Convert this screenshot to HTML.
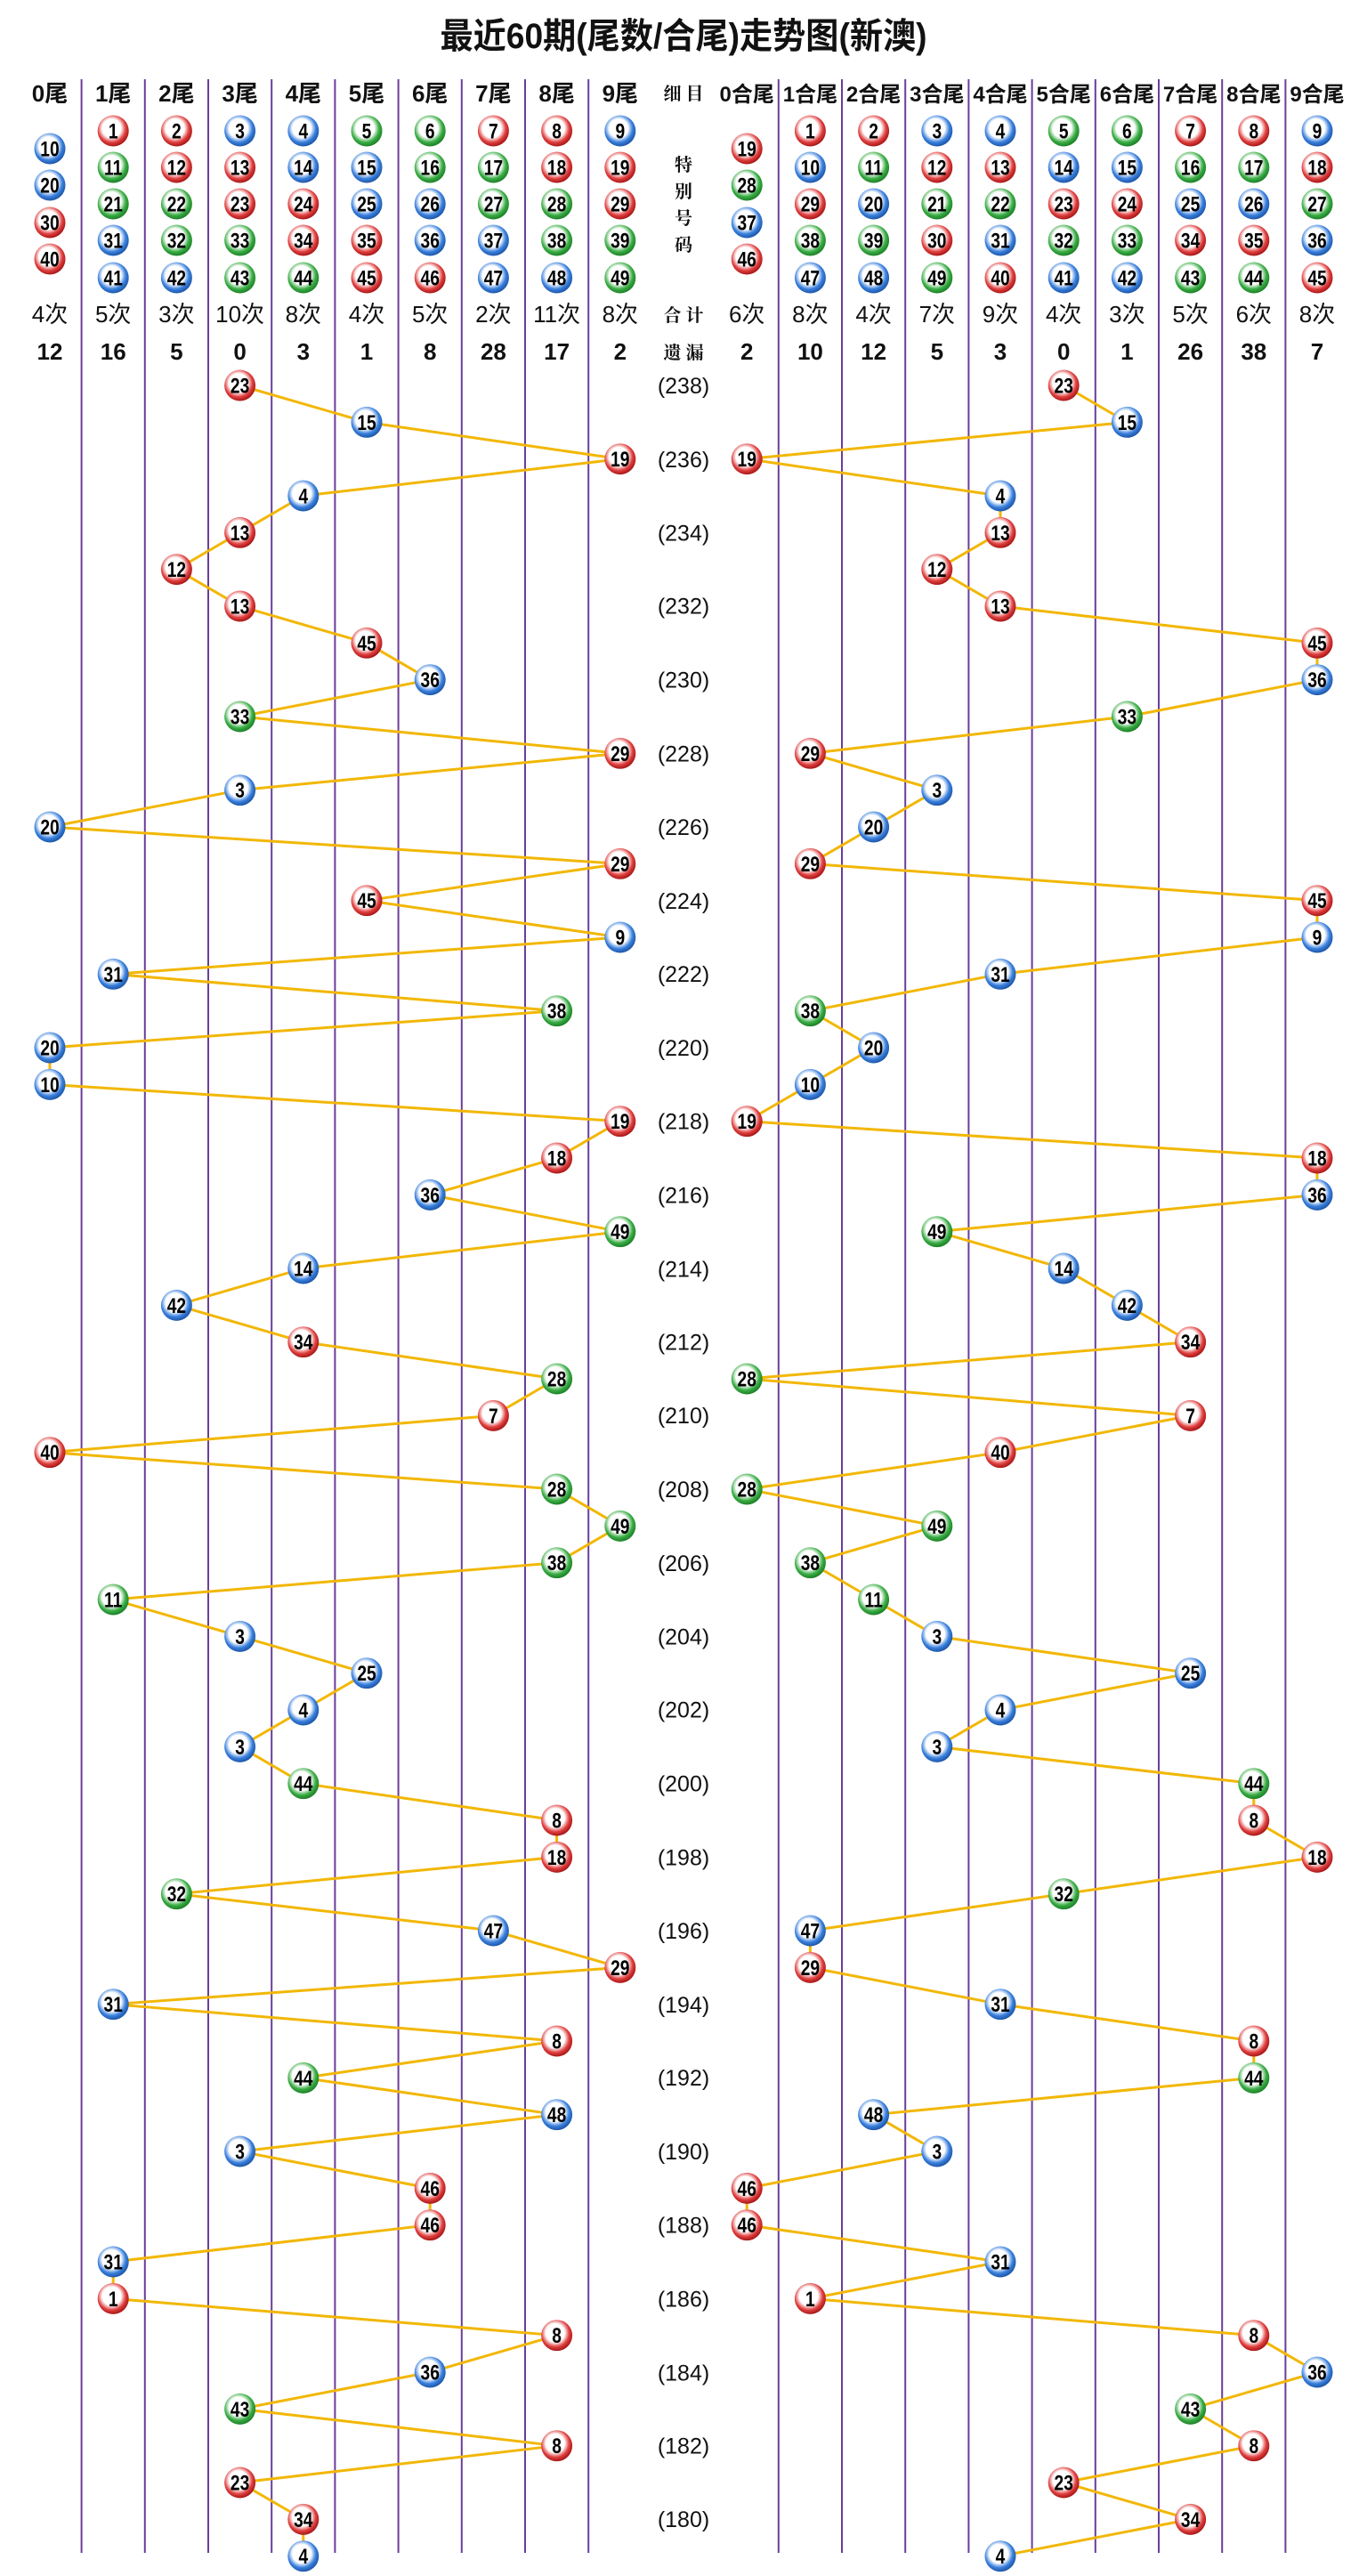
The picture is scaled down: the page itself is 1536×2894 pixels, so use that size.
<!DOCTYPE html>
<html><head><meta charset="utf-8"><style>
html,body{margin:0;padding:0;background:#fff;}
svg{display:block;}
.h{font:bold 26px "Liberation Sans Narrow","Liberation Sans","Noto Sans CJK SC",sans-serif;text-anchor:middle;fill:#111;}
.hs{font:bold 24px "Liberation Sans Narrow","Liberation Sans","Noto Sans CJK SC",sans-serif;text-anchor:middle;fill:#111;}
.k{font:bold 20px "Liberation Serif","Noto Serif CJK SC",serif;text-anchor:middle;fill:#111;}
.p{font:25px "Liberation Sans Narrow","Liberation Sans",sans-serif;text-anchor:middle;fill:#111;}
.b text{font:bold 24px "Liberation Sans Narrow","Liberation Sans",sans-serif;text-anchor:middle;fill:#000;transform-box:fill-box;transform-origin:center;transform:translateY(1.5px) scaleX(0.8);}
</style></head><body>
<svg width="1536" height="2894" viewBox="0 0 1536 2894" xmlns="http://www.w3.org/2000/svg">
<defs>
<radialGradient id="gr" cx=".45" cy=".42" r=".6"><stop offset="0" stop-color="#fff"/><stop offset=".5" stop-color="#fff"/><stop offset=".75" stop-color="#e04040"/><stop offset="1" stop-color="#a01010"/></radialGradient>
<radialGradient id="gb" cx=".45" cy=".42" r=".6"><stop offset="0" stop-color="#fff"/><stop offset=".5" stop-color="#fff"/><stop offset=".75" stop-color="#3a80dd"/><stop offset="1" stop-color="#1850a0"/></radialGradient>
<radialGradient id="gg" cx=".45" cy=".42" r=".6"><stop offset="0" stop-color="#fff"/><stop offset=".5" stop-color="#fff"/><stop offset=".75" stop-color="#3aad45"/><stop offset="1" stop-color="#187a22"/></radialGradient>
<circle id="R" r="17.5" fill="url(#gr)"/>
<circle id="B" r="17.5" fill="url(#gb)"/>
<circle id="G" r="17.5" fill="url(#gg)"/>
</defs>
<text x="768" y="54" textLength="547" lengthAdjust="spacingAndGlyphs" style="font:bold 40px 'Liberation Sans Narrow','Liberation Sans','Noto Sans CJK SC',sans-serif;text-anchor:middle;fill:#111">最近60期(尾数/合尾)走势图(新澳)</text>
<g stroke="#6a3d9a" stroke-width="2">
<line x1="91.6" y1="89" x2="91.6" y2="2868"/><line x1="162.8" y1="89" x2="162.8" y2="2868"/><line x1="234" y1="89" x2="234" y2="2868"/><line x1="305.2" y1="89" x2="305.2" y2="2868"/><line x1="376.4" y1="89" x2="376.4" y2="2868"/><line x1="447.6" y1="89" x2="447.6" y2="2868"/><line x1="518.8" y1="89" x2="518.8" y2="2868"/><line x1="590" y1="89" x2="590" y2="2868"/><line x1="661.2" y1="89" x2="661.2" y2="2868"/>
<line x1="874.8" y1="89" x2="874.8" y2="2868"/><line x1="946" y1="89" x2="946" y2="2868"/><line x1="1017.2" y1="89" x2="1017.2" y2="2868"/><line x1="1088.4" y1="89" x2="1088.4" y2="2868"/><line x1="1159.6" y1="89" x2="1159.6" y2="2868"/><line x1="1230.8" y1="89" x2="1230.8" y2="2868"/><line x1="1302" y1="89" x2="1302" y2="2868"/><line x1="1373.2" y1="89" x2="1373.2" y2="2868"/><line x1="1444.4" y1="89" x2="1444.4" y2="2868"/>
</g>
<g class="h">
<text x="56" y="114">0尾</text><text x="127.2" y="114">1尾</text><text x="198.4" y="114">2尾</text><text x="269.6" y="114">3尾</text><text x="340.8" y="114">4尾</text><text x="412" y="114">5尾</text><text x="483.2" y="114">6尾</text><text x="554.4" y="114">7尾</text><text x="625.6" y="114">8尾</text><text x="696.8" y="114">9尾</text>
</g>
<g class="hs">
<text x="839.2" y="114">0合尾</text><text x="910.4" y="114">1合尾</text><text x="981.6" y="114">2合尾</text><text x="1052.8" y="114">3合尾</text><text x="1124" y="114">4合尾</text><text x="1195.2" y="114">5合尾</text><text x="1266.4" y="114">6合尾</text><text x="1337.6" y="114">7合尾</text><text x="1408.8" y="114">8合尾</text><text x="1480" y="114">9合尾</text>
</g>
<g class="k">
<text x="768" y="112">细 目</text><text x="768" y="192">特</text><text x="768" y="222">别</text><text x="768" y="252">号</text><text x="768" y="282">码</text><text x="768" y="361">合 计</text><text x="768" y="403">遗 漏</text>
</g>
<g class="h" style="font-weight:normal">
<text x="56" y="362">4次</text><text x="127.2" y="362">5次</text><text x="198.4" y="362">3次</text><text x="269.6" y="362">10次</text><text x="340.8" y="362">8次</text><text x="412" y="362">4次</text><text x="483.2" y="362">5次</text><text x="554.4" y="362">2次</text><text x="625.6" y="362">11次</text><text x="696.8" y="362">8次</text>
<text x="839.2" y="362">6次</text><text x="910.4" y="362">8次</text><text x="981.6" y="362">4次</text><text x="1052.8" y="362">7次</text><text x="1124" y="362">9次</text><text x="1195.2" y="362">4次</text><text x="1266.4" y="362">3次</text><text x="1337.6" y="362">5次</text><text x="1408.8" y="362">6次</text><text x="1480" y="362">8次</text>
</g>
<g class="h">
<text x="56" y="404">12</text><text x="127.2" y="404">16</text><text x="198.4" y="404">5</text><text x="269.6" y="404">0</text><text x="340.8" y="404">3</text><text x="412" y="404">1</text><text x="483.2" y="404">8</text><text x="554.4" y="404">28</text><text x="625.6" y="404">17</text><text x="696.8" y="404">2</text>
<text x="839.2" y="404">2</text><text x="910.4" y="404">10</text><text x="981.6" y="404">12</text><text x="1052.8" y="404">5</text><text x="1124" y="404">3</text><text x="1195.2" y="404">0</text><text x="1266.4" y="404">1</text><text x="1337.6" y="404">26</text><text x="1408.8" y="404">38</text><text x="1480" y="404">7</text>
</g>
<g class="b">
<use href="#B" x="56" y="167"/><text x="56" y="174">10</text>
<use href="#B" x="56" y="208"/><text x="56" y="215">20</text>
<use href="#R" x="56" y="250"/><text x="56" y="257">30</text>
<use href="#R" x="56" y="291"/><text x="56" y="298">40</text>

<use href="#R" x="127.2" y="147"/><text x="127.2" y="154">1</text>
<use href="#G" x="127.2" y="188"/><text x="127.2" y="195">11</text>
<use href="#G" x="127.2" y="229"/><text x="127.2" y="236">21</text>
<use href="#B" x="127.2" y="270"/><text x="127.2" y="277">31</text>
<use href="#B" x="127.2" y="312"/><text x="127.2" y="319">41</text>

<use href="#R" x="198.4" y="147"/><text x="198.4" y="154">2</text>
<use href="#R" x="198.4" y="188"/><text x="198.4" y="195">12</text>
<use href="#G" x="198.4" y="229"/><text x="198.4" y="236">22</text>
<use href="#G" x="198.4" y="270"/><text x="198.4" y="277">32</text>
<use href="#B" x="198.4" y="312"/><text x="198.4" y="319">42</text>

<use href="#B" x="269.6" y="147"/><text x="269.6" y="154">3</text>
<use href="#R" x="269.6" y="188"/><text x="269.6" y="195">13</text>
<use href="#R" x="269.6" y="229"/><text x="269.6" y="236">23</text>
<use href="#G" x="269.6" y="270"/><text x="269.6" y="277">33</text>
<use href="#G" x="269.6" y="312"/><text x="269.6" y="319">43</text>

<use href="#B" x="340.8" y="147"/><text x="340.8" y="154">4</text>
<use href="#B" x="340.8" y="188"/><text x="340.8" y="195">14</text>
<use href="#R" x="340.8" y="229"/><text x="340.8" y="236">24</text>
<use href="#R" x="340.8" y="270"/><text x="340.8" y="277">34</text>
<use href="#G" x="340.8" y="312"/><text x="340.8" y="319">44</text>

<use href="#G" x="412" y="147"/><text x="412" y="154">5</text>
<use href="#B" x="412" y="188"/><text x="412" y="195">15</text>
<use href="#B" x="412" y="229"/><text x="412" y="236">25</text>
<use href="#R" x="412" y="270"/><text x="412" y="277">35</text>
<use href="#R" x="412" y="312"/><text x="412" y="319">45</text>

<use href="#G" x="483.2" y="147"/><text x="483.2" y="154">6</text>
<use href="#G" x="483.2" y="188"/><text x="483.2" y="195">16</text>
<use href="#B" x="483.2" y="229"/><text x="483.2" y="236">26</text>
<use href="#B" x="483.2" y="270"/><text x="483.2" y="277">36</text>
<use href="#R" x="483.2" y="312"/><text x="483.2" y="319">46</text>

<use href="#R" x="554.4" y="147"/><text x="554.4" y="154">7</text>
<use href="#G" x="554.4" y="188"/><text x="554.4" y="195">17</text>
<use href="#G" x="554.4" y="229"/><text x="554.4" y="236">27</text>
<use href="#B" x="554.4" y="270"/><text x="554.4" y="277">37</text>
<use href="#B" x="554.4" y="312"/><text x="554.4" y="319">47</text>

<use href="#R" x="625.6" y="147"/><text x="625.6" y="154">8</text>
<use href="#R" x="625.6" y="188"/><text x="625.6" y="195">18</text>
<use href="#G" x="625.6" y="229"/><text x="625.6" y="236">28</text>
<use href="#G" x="625.6" y="270"/><text x="625.6" y="277">38</text>
<use href="#B" x="625.6" y="312"/><text x="625.6" y="319">48</text>

<use href="#B" x="696.8" y="147"/><text x="696.8" y="154">9</text>
<use href="#R" x="696.8" y="188"/><text x="696.8" y="195">19</text>
<use href="#R" x="696.8" y="229"/><text x="696.8" y="236">29</text>
<use href="#G" x="696.8" y="270"/><text x="696.8" y="277">39</text>
<use href="#G" x="696.8" y="312"/><text x="696.8" y="319">49</text>

<use href="#R" x="839.2" y="167"/><text x="839.2" y="174">19</text>
<use href="#G" x="839.2" y="208"/><text x="839.2" y="215">28</text>
<use href="#B" x="839.2" y="250"/><text x="839.2" y="257">37</text>
<use href="#R" x="839.2" y="291"/><text x="839.2" y="298">46</text>

<use href="#R" x="910.4" y="147"/><text x="910.4" y="154">1</text>
<use href="#B" x="910.4" y="188"/><text x="910.4" y="195">10</text>
<use href="#R" x="910.4" y="229"/><text x="910.4" y="236">29</text>
<use href="#G" x="910.4" y="270"/><text x="910.4" y="277">38</text>
<use href="#B" x="910.4" y="312"/><text x="910.4" y="319">47</text>

<use href="#R" x="981.6" y="147"/><text x="981.6" y="154">2</text>
<use href="#G" x="981.6" y="188"/><text x="981.6" y="195">11</text>
<use href="#B" x="981.6" y="229"/><text x="981.6" y="236">20</text>
<use href="#G" x="981.6" y="270"/><text x="981.6" y="277">39</text>
<use href="#B" x="981.6" y="312"/><text x="981.6" y="319">48</text>

<use href="#B" x="1052.8" y="147"/><text x="1052.8" y="154">3</text>
<use href="#R" x="1052.8" y="188"/><text x="1052.8" y="195">12</text>
<use href="#G" x="1052.8" y="229"/><text x="1052.8" y="236">21</text>
<use href="#R" x="1052.8" y="270"/><text x="1052.8" y="277">30</text>
<use href="#G" x="1052.8" y="312"/><text x="1052.8" y="319">49</text>

<use href="#B" x="1124" y="147"/><text x="1124" y="154">4</text>
<use href="#R" x="1124" y="188"/><text x="1124" y="195">13</text>
<use href="#G" x="1124" y="229"/><text x="1124" y="236">22</text>
<use href="#B" x="1124" y="270"/><text x="1124" y="277">31</text>
<use href="#R" x="1124" y="312"/><text x="1124" y="319">40</text>

<use href="#G" x="1195.2" y="147"/><text x="1195.2" y="154">5</text>
<use href="#B" x="1195.2" y="188"/><text x="1195.2" y="195">14</text>
<use href="#R" x="1195.2" y="229"/><text x="1195.2" y="236">23</text>
<use href="#G" x="1195.2" y="270"/><text x="1195.2" y="277">32</text>
<use href="#B" x="1195.2" y="312"/><text x="1195.2" y="319">41</text>

<use href="#G" x="1266.4" y="147"/><text x="1266.4" y="154">6</text>
<use href="#B" x="1266.4" y="188"/><text x="1266.4" y="195">15</text>
<use href="#R" x="1266.4" y="229"/><text x="1266.4" y="236">24</text>
<use href="#G" x="1266.4" y="270"/><text x="1266.4" y="277">33</text>
<use href="#B" x="1266.4" y="312"/><text x="1266.4" y="319">42</text>

<use href="#R" x="1337.6" y="147"/><text x="1337.6" y="154">7</text>
<use href="#G" x="1337.6" y="188"/><text x="1337.6" y="195">16</text>
<use href="#B" x="1337.6" y="229"/><text x="1337.6" y="236">25</text>
<use href="#R" x="1337.6" y="270"/><text x="1337.6" y="277">34</text>
<use href="#G" x="1337.6" y="312"/><text x="1337.6" y="319">43</text>

<use href="#R" x="1408.8" y="147"/><text x="1408.8" y="154">8</text>
<use href="#G" x="1408.8" y="188"/><text x="1408.8" y="195">17</text>
<use href="#B" x="1408.8" y="229"/><text x="1408.8" y="236">26</text>
<use href="#R" x="1408.8" y="270"/><text x="1408.8" y="277">35</text>
<use href="#G" x="1408.8" y="312"/><text x="1408.8" y="319">44</text>

<use href="#B" x="1480" y="147"/><text x="1480" y="154">9</text>
<use href="#R" x="1480" y="188"/><text x="1480" y="195">18</text>
<use href="#G" x="1480" y="229"/><text x="1480" y="236">27</text>
<use href="#B" x="1480" y="270"/><text x="1480" y="277">36</text>
<use href="#R" x="1480" y="312"/><text x="1480" y="319">45</text>
</g>
<g transform="translate(0,433) scale(1,0.9984) translate(0,-433)">
<g class="p">
<text x="768" y="442">(238)</text><text x="768" y="525">(236)</text><text x="768" y="608">(234)</text><text x="768" y="690">(232)</text><text x="768" y="773">(230)</text><text x="768" y="856">(228)</text><text x="768" y="939">(226)</text><text x="768" y="1022">(224)</text><text x="768" y="1104">(222)</text><text x="768" y="1187">(220)</text><text x="768" y="1270">(218)</text><text x="768" y="1353">(216)</text><text x="768" y="1436">(214)</text><text x="768" y="1518">(212)</text><text x="768" y="1601">(210)</text><text x="768" y="1684">(208)</text><text x="768" y="1767">(206)</text><text x="768" y="1850">(204)</text><text x="768" y="1932">(202)</text><text x="768" y="2015">(200)</text><text x="768" y="2098">(198)</text><text x="768" y="2181">(196)</text><text x="768" y="2264">(194)</text><text x="768" y="2346">(192)</text><text x="768" y="2429">(190)</text><text x="768" y="2512">(188)</text><text x="768" y="2595">(186)</text><text x="768" y="2678">(184)</text><text x="768" y="2760">(182)</text><text x="768" y="2843">(180)</text>
</g>
<g fill="none" stroke="#f2b705" stroke-width="3" stroke-linejoin="round">
<polyline points="269.6,433 412,474.4 696.8,515.8 340.8,557.2 269.6,598.6 198.4,640 269.6,681.4 412,722.8 483.2,764.2 269.6,805.6 696.8,847 269.6,888.4 56,929.8 696.8,971.2 412,1012.6 696.8,1054 127.2,1095.4 625.6,1136.8 56,1178.2 56,1219.6 696.8,1261 625.6,1302.4 483.2,1343.8 696.8,1385.2 340.8,1426.6 198.4,1468 340.8,1509.4 625.6,1550.8 554.4,1592.2 56,1633.6 625.6,1675 696.8,1716.4 625.6,1757.8 127.2,1799.2 269.6,1840.6 412,1882 340.8,1923.4 269.6,1964.8 340.8,2006.2 625.6,2047.6 625.6,2089 198.4,2130.4 554.4,2171.8 696.8,2213.2 127.2,2254.6 625.6,2296 340.8,2337.4 625.6,2378.8 269.6,2420.2 483.2,2461.6 483.2,2503 127.2,2544.4 127.2,2585.8 625.6,2627.2 483.2,2668.6 269.6,2710 625.6,2751.4 269.6,2792.8 340.8,2834.2 340.8,2875.6"/>
<polyline points="1195.2,433 1266.4,474.4 839.2,515.8 1124,557.2 1124,598.6 1052.8,640 1124,681.4 1480,722.8 1480,764.2 1266.4,805.6 910.4,847 1052.8,888.4 981.6,929.8 910.4,971.2 1480,1012.6 1480,1054 1124,1095.4 910.4,1136.8 981.6,1178.2 910.4,1219.6 839.2,1261 1480,1302.4 1480,1343.8 1052.8,1385.2 1195.2,1426.6 1266.4,1468 1337.6,1509.4 839.2,1550.8 1337.6,1592.2 1124,1633.6 839.2,1675 1052.8,1716.4 910.4,1757.8 981.6,1799.2 1052.8,1840.6 1337.6,1882 1124,1923.4 1052.8,1964.8 1408.8,2006.2 1408.8,2047.6 1480,2089 1195.2,2130.4 910.4,2171.8 910.4,2213.2 1124,2254.6 1408.8,2296 1408.8,2337.4 981.6,2378.8 1052.8,2420.2 839.2,2461.6 839.2,2503 1124,2544.4 910.4,2585.8 1408.8,2627.2 1480,2668.6 1337.6,2710 1408.8,2751.4 1195.2,2792.8 1337.6,2834.2 1124,2875.6"/>
</g>
<g class="b">
<use href="#R" x="269.6" y="433"/><text x="269.6" y="440">23</text><use href="#R" x="1195.2" y="433"/><text x="1195.2" y="440">23</text>
<use href="#B" x="412" y="474.4"/><text x="412" y="481.4">15</text><use href="#B" x="1266.4" y="474.4"/><text x="1266.4" y="481.4">15</text>
<use href="#R" x="696.8" y="515.8"/><text x="696.8" y="522.8">19</text><use href="#R" x="839.2" y="515.8"/><text x="839.2" y="522.8">19</text>
<use href="#B" x="340.8" y="557.2"/><text x="340.8" y="564.2">4</text><use href="#B" x="1124" y="557.2"/><text x="1124" y="564.2">4</text>
<use href="#R" x="269.6" y="598.6"/><text x="269.6" y="605.6">13</text><use href="#R" x="1124" y="598.6"/><text x="1124" y="605.6">13</text>
<use href="#R" x="198.4" y="640"/><text x="198.4" y="647">12</text><use href="#R" x="1052.8" y="640"/><text x="1052.8" y="647">12</text>
<use href="#R" x="269.6" y="681.4"/><text x="269.6" y="688.4">13</text><use href="#R" x="1124" y="681.4"/><text x="1124" y="688.4">13</text>
<use href="#R" x="412" y="722.8"/><text x="412" y="729.8">45</text><use href="#R" x="1480" y="722.8"/><text x="1480" y="729.8">45</text>
<use href="#B" x="483.2" y="764.2"/><text x="483.2" y="771.2">36</text><use href="#B" x="1480" y="764.2"/><text x="1480" y="771.2">36</text>
<use href="#G" x="269.6" y="805.6"/><text x="269.6" y="812.6">33</text><use href="#G" x="1266.4" y="805.6"/><text x="1266.4" y="812.6">33</text>
<use href="#R" x="696.8" y="847"/><text x="696.8" y="854">29</text><use href="#R" x="910.4" y="847"/><text x="910.4" y="854">29</text>
<use href="#B" x="269.6" y="888.4"/><text x="269.6" y="895.4">3</text><use href="#B" x="1052.8" y="888.4"/><text x="1052.8" y="895.4">3</text>
<use href="#B" x="56" y="929.8"/><text x="56" y="936.8">20</text><use href="#B" x="981.6" y="929.8"/><text x="981.6" y="936.8">20</text>
<use href="#R" x="696.8" y="971.2"/><text x="696.8" y="978.2">29</text><use href="#R" x="910.4" y="971.2"/><text x="910.4" y="978.2">29</text>
<use href="#R" x="412" y="1012.6"/><text x="412" y="1019.6">45</text><use href="#R" x="1480" y="1012.6"/><text x="1480" y="1019.6">45</text>
<use href="#B" x="696.8" y="1054"/><text x="696.8" y="1061">9</text><use href="#B" x="1480" y="1054"/><text x="1480" y="1061">9</text>
<use href="#B" x="127.2" y="1095.4"/><text x="127.2" y="1102.4">31</text><use href="#B" x="1124" y="1095.4"/><text x="1124" y="1102.4">31</text>
<use href="#G" x="625.6" y="1136.8"/><text x="625.6" y="1143.8">38</text><use href="#G" x="910.4" y="1136.8"/><text x="910.4" y="1143.8">38</text>
<use href="#B" x="56" y="1178.2"/><text x="56" y="1185.2">20</text><use href="#B" x="981.6" y="1178.2"/><text x="981.6" y="1185.2">20</text>
<use href="#B" x="56" y="1219.6"/><text x="56" y="1226.6">10</text><use href="#B" x="910.4" y="1219.6"/><text x="910.4" y="1226.6">10</text>
<use href="#R" x="696.8" y="1261"/><text x="696.8" y="1268">19</text><use href="#R" x="839.2" y="1261"/><text x="839.2" y="1268">19</text>
<use href="#R" x="625.6" y="1302.4"/><text x="625.6" y="1309.4">18</text><use href="#R" x="1480" y="1302.4"/><text x="1480" y="1309.4">18</text>
<use href="#B" x="483.2" y="1343.8"/><text x="483.2" y="1350.8">36</text><use href="#B" x="1480" y="1343.8"/><text x="1480" y="1350.8">36</text>
<use href="#G" x="696.8" y="1385.2"/><text x="696.8" y="1392.2">49</text><use href="#G" x="1052.8" y="1385.2"/><text x="1052.8" y="1392.2">49</text>
<use href="#B" x="340.8" y="1426.6"/><text x="340.8" y="1433.6">14</text><use href="#B" x="1195.2" y="1426.6"/><text x="1195.2" y="1433.6">14</text>
<use href="#B" x="198.4" y="1468"/><text x="198.4" y="1475">42</text><use href="#B" x="1266.4" y="1468"/><text x="1266.4" y="1475">42</text>
<use href="#R" x="340.8" y="1509.4"/><text x="340.8" y="1516.4">34</text><use href="#R" x="1337.6" y="1509.4"/><text x="1337.6" y="1516.4">34</text>
<use href="#G" x="625.6" y="1550.8"/><text x="625.6" y="1557.8">28</text><use href="#G" x="839.2" y="1550.8"/><text x="839.2" y="1557.8">28</text>
<use href="#R" x="554.4" y="1592.2"/><text x="554.4" y="1599.2">7</text><use href="#R" x="1337.6" y="1592.2"/><text x="1337.6" y="1599.2">7</text>
<use href="#R" x="56" y="1633.6"/><text x="56" y="1640.6">40</text><use href="#R" x="1124" y="1633.6"/><text x="1124" y="1640.6">40</text>
<use href="#G" x="625.6" y="1675"/><text x="625.6" y="1682">28</text><use href="#G" x="839.2" y="1675"/><text x="839.2" y="1682">28</text>
<use href="#G" x="696.8" y="1716.4"/><text x="696.8" y="1723.4">49</text><use href="#G" x="1052.8" y="1716.4"/><text x="1052.8" y="1723.4">49</text>
<use href="#G" x="625.6" y="1757.8"/><text x="625.6" y="1764.8">38</text><use href="#G" x="910.4" y="1757.8"/><text x="910.4" y="1764.8">38</text>
<use href="#G" x="127.2" y="1799.2"/><text x="127.2" y="1806.2">11</text><use href="#G" x="981.6" y="1799.2"/><text x="981.6" y="1806.2">11</text>
<use href="#B" x="269.6" y="1840.6"/><text x="269.6" y="1847.6">3</text><use href="#B" x="1052.8" y="1840.6"/><text x="1052.8" y="1847.6">3</text>
<use href="#B" x="412" y="1882"/><text x="412" y="1889">25</text><use href="#B" x="1337.6" y="1882"/><text x="1337.6" y="1889">25</text>
<use href="#B" x="340.8" y="1923.4"/><text x="340.8" y="1930.4">4</text><use href="#B" x="1124" y="1923.4"/><text x="1124" y="1930.4">4</text>
<use href="#B" x="269.6" y="1964.8"/><text x="269.6" y="1971.8">3</text><use href="#B" x="1052.8" y="1964.8"/><text x="1052.8" y="1971.8">3</text>
<use href="#G" x="340.8" y="2006.2"/><text x="340.8" y="2013.2">44</text><use href="#G" x="1408.8" y="2006.2"/><text x="1408.8" y="2013.2">44</text>
<use href="#R" x="625.6" y="2047.6"/><text x="625.6" y="2054.6">8</text><use href="#R" x="1408.8" y="2047.6"/><text x="1408.8" y="2054.6">8</text>
<use href="#R" x="625.6" y="2089"/><text x="625.6" y="2096">18</text><use href="#R" x="1480" y="2089"/><text x="1480" y="2096">18</text>
<use href="#G" x="198.4" y="2130.4"/><text x="198.4" y="2137.4">32</text><use href="#G" x="1195.2" y="2130.4"/><text x="1195.2" y="2137.4">32</text>
<use href="#B" x="554.4" y="2171.8"/><text x="554.4" y="2178.8">47</text><use href="#B" x="910.4" y="2171.8"/><text x="910.4" y="2178.8">47</text>
<use href="#R" x="696.8" y="2213.2"/><text x="696.8" y="2220.2">29</text><use href="#R" x="910.4" y="2213.2"/><text x="910.4" y="2220.2">29</text>
<use href="#B" x="127.2" y="2254.6"/><text x="127.2" y="2261.6">31</text><use href="#B" x="1124" y="2254.6"/><text x="1124" y="2261.6">31</text>
<use href="#R" x="625.6" y="2296"/><text x="625.6" y="2303">8</text><use href="#R" x="1408.8" y="2296"/><text x="1408.8" y="2303">8</text>
<use href="#G" x="340.8" y="2337.4"/><text x="340.8" y="2344.4">44</text><use href="#G" x="1408.8" y="2337.4"/><text x="1408.8" y="2344.4">44</text>
<use href="#B" x="625.6" y="2378.8"/><text x="625.6" y="2385.8">48</text><use href="#B" x="981.6" y="2378.8"/><text x="981.6" y="2385.8">48</text>
<use href="#B" x="269.6" y="2420.2"/><text x="269.6" y="2427.2">3</text><use href="#B" x="1052.8" y="2420.2"/><text x="1052.8" y="2427.2">3</text>
<use href="#R" x="483.2" y="2461.6"/><text x="483.2" y="2468.6">46</text><use href="#R" x="839.2" y="2461.6"/><text x="839.2" y="2468.6">46</text>
<use href="#R" x="483.2" y="2503"/><text x="483.2" y="2510">46</text><use href="#R" x="839.2" y="2503"/><text x="839.2" y="2510">46</text>
<use href="#B" x="127.2" y="2544.4"/><text x="127.2" y="2551.4">31</text><use href="#B" x="1124" y="2544.4"/><text x="1124" y="2551.4">31</text>
<use href="#R" x="127.2" y="2585.8"/><text x="127.2" y="2592.8">1</text><use href="#R" x="910.4" y="2585.8"/><text x="910.4" y="2592.8">1</text>
<use href="#R" x="625.6" y="2627.2"/><text x="625.6" y="2634.2">8</text><use href="#R" x="1408.8" y="2627.2"/><text x="1408.8" y="2634.2">8</text>
<use href="#B" x="483.2" y="2668.6"/><text x="483.2" y="2675.6">36</text><use href="#B" x="1480" y="2668.6"/><text x="1480" y="2675.6">36</text>
<use href="#G" x="269.6" y="2710"/><text x="269.6" y="2717">43</text><use href="#G" x="1337.6" y="2710"/><text x="1337.6" y="2717">43</text>
<use href="#R" x="625.6" y="2751.4"/><text x="625.6" y="2758.4">8</text><use href="#R" x="1408.8" y="2751.4"/><text x="1408.8" y="2758.4">8</text>
<use href="#R" x="269.6" y="2792.8"/><text x="269.6" y="2799.8">23</text><use href="#R" x="1195.2" y="2792.8"/><text x="1195.2" y="2799.8">23</text>
<use href="#R" x="340.8" y="2834.2"/><text x="340.8" y="2841.2">34</text><use href="#R" x="1337.6" y="2834.2"/><text x="1337.6" y="2841.2">34</text>
<use href="#B" x="340.8" y="2875.6"/><text x="340.8" y="2882.6">4</text><use href="#B" x="1124" y="2875.6"/><text x="1124" y="2882.6">4</text>
</g>
</g>
</svg>
</body></html>
